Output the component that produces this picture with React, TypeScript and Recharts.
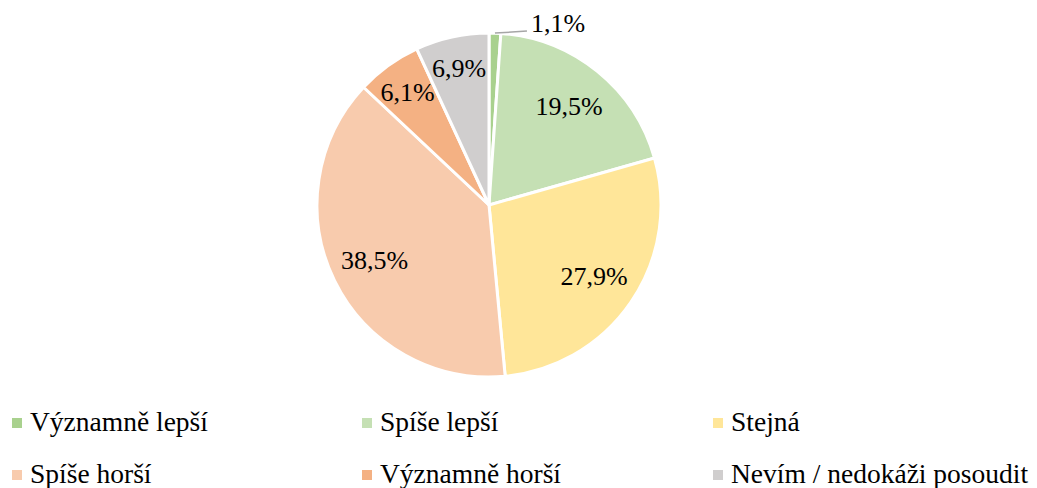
import React from 'react'
import { PieChart, Pie, Cell, Legend } from 'recharts'

const categories = ['Významně lepší', 'Spíše lepší', 'Stejná', 'Spíše horší', 'Významně horší', 'Nevím / nedokáži posoudit']
const shares = [1.1, 19.5, 27.9, 38.5, 6.1, 6.9]
const COLORS = ['#a9d18e', '#c5e0b4', '#ffe699', '#f8cbad', '#f4b183', '#d0cece']

const data = categories.map((name, i) => ({ name, value: shares[i] }))

const FONT = 'Liberation Serif, DejaVu Serif, serif'
const RADIAN = Math.PI / 180

const fmt = (v: number) => v.toFixed(1).replace('.', ',') + '%'

const renderLabel = (props: any) => {
  const { cx, cy, midAngle, outerRadius, value, index } = props
  const sin = Math.sin(-midAngle * RADIAN)
  const cos = Math.cos(-midAngle * RADIAN)
  if (value < 3) {
    // small slice: label outside with a leader line
    const sx = cx + outerRadius * cos
    const sy = cy + outerRadius * sin
    const ex = sx + 32
    const ey = sy - 2
    return (
      <g key={`lbl-${index}`}>
        <path d={`M${sx},${sy}L${ex},${ey}`} stroke="#a6a6a6" strokeWidth={1.5} fill="none" />
        <text x={ex + 4} y={ey - 8} fill="#000" style={{ fontFamily: FONT, fontSize: 26 }} dominantBaseline="central">
          {fmt(value)}
        </text>
      </g>
    )
  }
  const r = outerRadius * (value < 10 ? 0.81 : 0.74)
  const x = cx + r * cos
  const y = cy + r * sin
  return (
    <text key={`lbl-${index}`} x={x} y={y} fill="#000" style={{ fontFamily: FONT, fontSize: 26 }} textAnchor="middle" dominantBaseline="central">
      {fmt(value)}
    </text>
  )
}

const renderLegend = () => (
  <div style={{ position: 'relative', width: 1037, height: 90, fontFamily: FONT, fontSize: 27.5, color: '#000' }}>
    {data.map((d, i) => {
      const col = i % 3
      const row = Math.floor(i / 3)
      const left = [12, 362, 713][col]
      const top = row * 52
      return (
        <div key={d.name} style={{ position: 'absolute', left, top, display: 'flex', alignItems: 'center', whiteSpace: 'nowrap', lineHeight: '30px' }}>
          <span style={{ display: 'inline-block', width: 10, height: 10, background: COLORS[i], marginRight: 8, marginTop: 2 }} />
          <span>{d.name}</span>
        </div>
      )
    })}
  </div>
)

export default function App() {
  return (
    <div style={{ position: 'absolute', left: 0, top: 0, width: 1037, height: 488, background: '#fff', fontFamily: FONT }}>
      <PieChart width={1037} height={488} margin={{ top: 0, right: 0, bottom: 0, left: 0 }}>
        <Pie
          data={data}
          dataKey="value"
          nameKey="name"
          cx={489}
          cy={205}
          outerRadius={172}
          startAngle={90}
          endAngle={-270}
          stroke="#fff"
          strokeWidth={3}
          labelLine={false}
          label={renderLabel}
          isAnimationActive={false}
        >
          {data.map((entry, index) => (
            <Cell key={`cell-${index}`} fill={COLORS[index]} />
          ))}
        </Pie>
        <Legend content={renderLegend} wrapperStyle={{ left: 0, top: 407, width: 1037 }} />
      </PieChart>
    </div>
  )
}
